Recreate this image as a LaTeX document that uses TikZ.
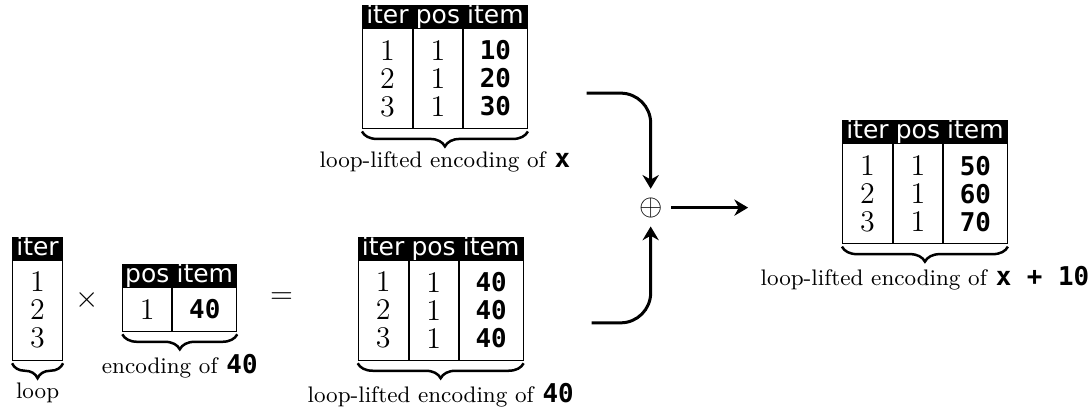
\documentclass[tikz,border=0pt]{standalone}
\usepackage{fontspec}
\setmonofont{DejaVu Sans Mono}[Scale=1.15]
\newfontfamily\headfont{DejaVu Sans}
\usetikzlibrary{positioning,decorations.pathreplacing,arrows.meta}

\tikzset{
    hdr/.style={fill=black, draw=black, text=white, font=\headfont,
        inner sep=0pt, minimum height=8.8pt, text height=7.2pt, text depth=1.6pt},
    colbody/.style={draw, inner sep=0pt, align=center, minimum height=#1,
        font=\fontsize{12}{11.2}\selectfont},
    colbody/.default=40pt,
    iterc/.style={minimum width=20pt},
    posc/.style={minimum width=19.6pt},
    itemc/.style={minimum width=25.6pt},
    val/.style={font=\fontsize{9}{11.2}\selectfont\ttfamily\bfseries},
    brc/.style={decorate, decoration={brace, mirror, amplitude=6pt}, line width=1pt},
    brlabel/.style={midway, below=6.5pt, inner sep=1pt, font=\small},
    flow/.style={-{Stealth[length=5.5pt,width=6.5pt]}, line width=1.2pt, rounded corners=12pt}
}

\begin{document}
\begin{tikzpicture}
    \useasboundingbox (0,0) rectangle (15.30,5.75);

    % encoding of x
    \node[hdr,iterc,anchor=north west] (xh1) at (5.09,5.68) {iter};
    \node[hdr,posc,right=0pt of xh1] (xh2) {pos};
    \node[hdr,itemc,right=0pt of xh2] (xh3) {item};
    \node[colbody,iterc,below=0pt of xh1] (xb1) {1\\2\\3};
    \node[colbody,posc,below=0pt of xh2] (xb2) {1\\1\\1};
    \node[colbody,itemc,val,below=0pt of xh3] (xb3) {10\\20\\30};
    \draw[brc] ([yshift=-1pt]xb1.south west) -- ([yshift=-1pt]xb3.south east)
        node[brlabel] (xcap) {loop-lifted encoding of \texttt{\textbf{x}}};

    % loop
    \node[hdr,iterc,anchor=north west] (lh1) at (0.17,2.42) {iter};
    \node[colbody,iterc,below=0pt of lh1] (lb1) {1\\2\\3};
    \draw[brc] ([yshift=-1pt]lb1.south west) -- ([yshift=-1pt]lb1.south east)
        node[brlabel] (lcap) {loop};

    \node[font=\large] (times) at (1.22,1.53) {$\times$};

    % encoding of 40
    \node[hdr,posc,anchor=north west] (eh1) at (1.72,2.04) {pos};
    \node[hdr,itemc,right=0pt of eh1] (eh2) {item};
    \node[colbody=17.6pt,posc,below=0pt of eh1] (eb1) {1};
    \node[colbody=17.6pt,itemc,val,below=0pt of eh2] (eb2) {40};
    \draw[brc] ([yshift=-1pt]eb1.south west) -- ([yshift=-1pt]eb2.south east)
        node[brlabel] (ecap) {encoding of \texttt{\textbf{40}}};

    \node[font=\large] (eq) at (3.96,1.56) {$=$};

    % loop-lifted 40
    \node[hdr,iterc,anchor=north west] (fh1) at (5.03,2.42) {iter};
    \node[hdr,posc,right=0pt of fh1] (fh2) {pos};
    \node[hdr,itemc,right=0pt of fh2] (fh3) {item};
    \node[colbody,iterc,below=0pt of fh1] (fb1) {1\\2\\3};
    \node[colbody,posc,below=0pt of fh2] (fb2) {1\\1\\1};
    \node[colbody,itemc,val,below=0pt of fh3] (fb3) {40\\40\\40};
    \draw[brc] ([yshift=-1pt]fb1.south west) -- ([yshift=-1pt]fb3.south east)
        node[brlabel] (fcap) {loop-lifted encoding of \texttt{\textbf{40}}};

    % plus
    \node[font=\large] (plus) at (9.15,2.83) {$\oplus$};
    \coordinate (xout) at (8.25,4.44);
    \coordinate (fout) at (8.32,1.21);
    \coordinate (resin) at (10.52,2.83);
    \draw[flow] (xout) -| (plus.north);
    \draw[flow] (fout) -| (plus.south);
    \draw[flow] (plus.east) -- (resin);

    % result
    \node[hdr,iterc,anchor=north west] (rh1) at (11.84,4.06) {iter};
    \node[hdr,posc,right=0pt of rh1] (rh2) {pos};
    \node[hdr,itemc,right=0pt of rh2] (rh3) {item};
    \node[colbody,iterc,below=0pt of rh1] (rb1) {1\\2\\3};
    \node[colbody,posc,below=0pt of rh2] (rb2) {1\\1\\1};
    \node[colbody,itemc,val,below=0pt of rh3] (rb3) {50\\60\\70};
    \draw[brc] ([yshift=-1pt]rb1.south west) -- ([yshift=-1pt]rb3.south east)
        node[brlabel] (rcap) {loop-lifted encoding of \texttt{\textbf{x + 10}}};
\end{tikzpicture}
\end{document}
